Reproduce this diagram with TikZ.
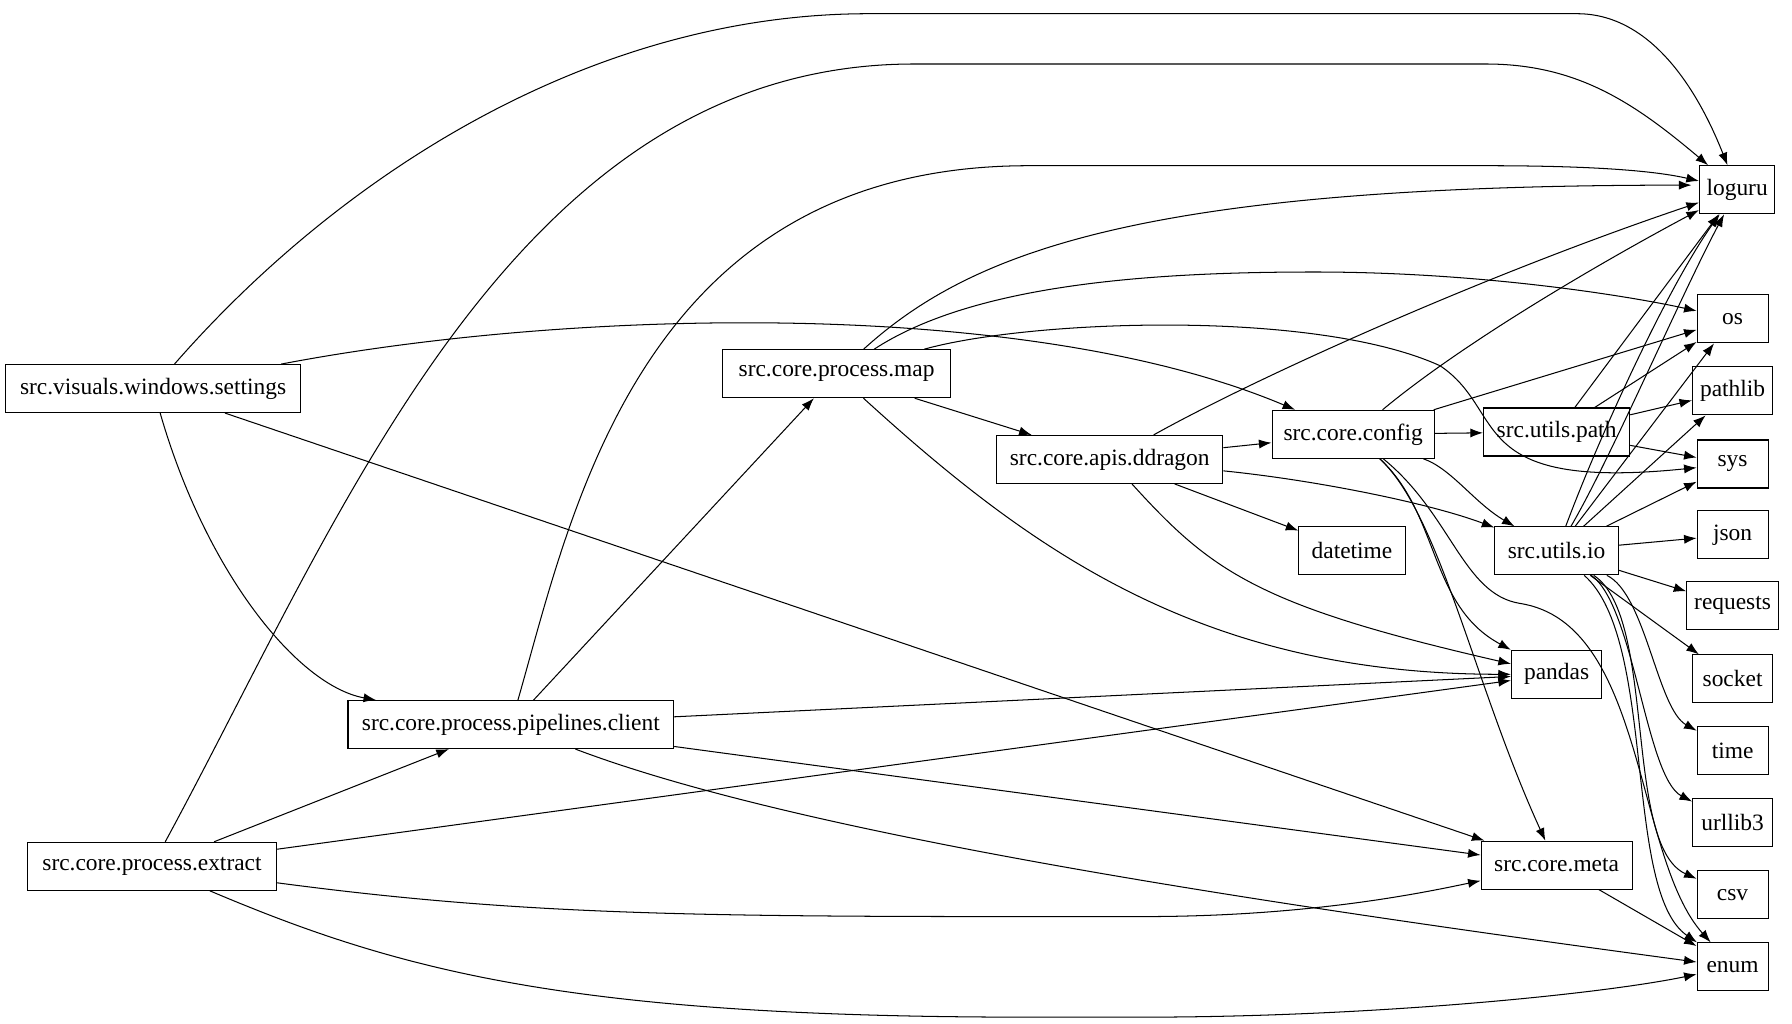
\documentclass[tikz,border=0pt]{standalone}
\usepackage{fontspec}
\setmainfont{Liberation Serif}
\usetikzlibrary{arrows.meta}
\begin{document}
\begin{tikzpicture}[x=1pt,y=-1pt,
  n/.style={draw,rectangle,minimum height=42pt,inner xsep=4pt,font=\fontsize{20.5}{24}\selectfont,line width=0.9pt},
  e/.style={-{Latex[length=11pt,width=8pt]},line width=0.9pt}]
\useasboundingbox (0,0) rectangle (1568,896);
\node[n,minimum width=66pt] (lg) at (1520,166) {loguru};
\node[n,minimum width=62pt] (os) at (1516,279) {os};
\node[n,minimum width=70pt] (pl) at (1516,342) {pathlib};
\node[n,minimum width=62pt] (sys) at (1516,406) {sys};
\node[n,minimum width=62pt] (js) at (1516,468) {json};
\node[n,minimum width=80pt] (rq) at (1516,530) {requests};
\node[n,minimum width=70pt] (so) at (1516,594) {socket};
\node[n,minimum width=62pt] (tm) at (1516,657) {time};
\node[n,minimum width=70pt] (ul) at (1516,720) {urllib3};
\node[n,minimum width=62pt] (csv) at (1516,783) {csv};
\node[n,minimum width=62pt] (en) at (1516,846) {enum};
\node[n,minimum width=258pt] (set) at (134,340) {src.visuals.windows.settings};
\node[n,minimum width=285pt] (pc) at (447,634) {src.core.process.pipelines.client};
\node[n,minimum width=218pt] (ex) at (133,758) {src.core.process.extract};
\node[n,minimum width=199pt] (map) at (732,327) {src.core.process.map};
\node[n,minimum width=198pt] (dd) at (971,402) {src.core.apis.ddragon};
\node[n,minimum width=142pt] (cfg) at (1184,380) {src.core.config};
\node[n,minimum width=128pt] (up) at (1362,378) {src.utils.path};
\node[n,minimum width=108pt] (io) at (1362,482) {src.utils.io};
\node[n,minimum width=93pt] (dt) at (1183,482) {datetime};
\node[n,minimum width=79pt] (pd) at (1362,590) {pandas};
\node[n,minimum width=132pt] (me) at (1362,757) {src.core.meta};

% settings
\draw[e] (set) .. controls (300,150) and (520,12) .. (760,12) -- (1380,12) .. controls (1450,12) and (1490,90) .. (lg);
\draw[e] (set) .. controls (500,270) and (900,260) .. (cfg);
\draw[e] (set) .. controls (180,500) and (260,600) .. (pc);
\draw[e] (set) -- (me);
% extract
\draw[e] (ex) .. controls (300,450) and (450,56) .. (800,56) -- (1300,56) .. controls (1380,56) and (1430,90) .. (lg);
\draw[e] (ex) -- (pc);
\draw[e] (ex) -- (pd);
\draw[e] (ex) .. controls (450,800) and (600,802) .. (900,802) -- (1000,802) .. controls (1150,802) and (1250,780) .. (me);
\draw[e] (ex) .. controls (350,850) and (500,890) .. (900,890) -- (1000,890) .. controls (1200,890) and (1400,870) .. (en);
% pipelines client
\draw[e] (pc) .. controls (500,450) and (560,145) .. (900,145) -- (1300,145) .. controls (1400,145) and (1450,150) .. (lg);
\draw[e] (pc) -- (map);
\draw[e] (pc) -- (pd);
\draw[e] (pc) -- (me);
\draw[e] (pc) .. controls (700,730) and (1100,790) .. (en);
% map
\draw[e] (map) .. controls (850,220) and (1000,162) .. (1480,162);
\draw[e] (map) .. controls (850,250) and (1000,238) .. (1150,238) .. controls (1300,238) and (1430,260) .. (os);
\draw[e] (map) .. controls (900,280) and (1150,270) .. (1260,320) .. controls (1320,360) and (1280,430) .. (sys);
\draw[e] (map) -- (dd);
\draw[e] (map) .. controls (900,480) and (1050,590) .. (pd);
% ddragon
\draw[e] (dd) .. controls (1100,330) and (1300,240) .. (lg);
\draw[e] (dd) -- (cfg);
\draw[e] (dd) .. controls (1150,420) and (1250,440) .. (io);
\draw[e] (dd) -- (dt);
\draw[e] (dd) .. controls (1060,500) and (1100,530) .. (pd);
% config
\draw[e] (cfg) .. controls (1280,300) and (1400,230) .. (lg);
\draw[e] (cfg) -- (os);
\draw[e] (cfg) -- (up);
\draw[e] (cfg) .. controls (1270,410) and (1290,440) .. (io);
\draw[e] (cfg) .. controls (1260,450) and (1250,530) .. (pd);
\draw[e] (cfg) .. controls (1260,450) and (1290,600) .. (me);
\draw[e] (cfg) .. controls (1270,450) and (1280,520) .. (1330,528) .. controls (1440,545) and (1430,750) .. (en);
% utils.path
\draw[e] (up) -- (lg);
\draw[e] (up) -- (os);
\draw[e] (up) -- (pl);
\draw[e] (up) -- (sys);
% utils.io
\draw[e] (io) .. controls (1400,380) and (1460,250) .. (lg);
\draw[e] (io) .. controls (1410,400) and (1470,260) .. (lg);
\draw[e] (io) -- (os);
\draw[e] (io) -- (pl);
\draw[e] (io) -- (sys);
\draw[e] (io) -- (js);
\draw[e] (io) -- (rq);
\draw[e] (io) -- (so);
\draw[e] (io) .. controls (1440,520) and (1450,620) .. (tm);
\draw[e] (io) .. controls (1430,530) and (1440,680) .. (ul);
\draw[e] (io) .. controls (1450,540) and (1420,740) .. (csv);
\draw[e] (io) .. controls (1450,560) and (1420,780) .. (en);
% meta
\draw[e] (me) -- (en);
\end{tikzpicture}
\end{document}
